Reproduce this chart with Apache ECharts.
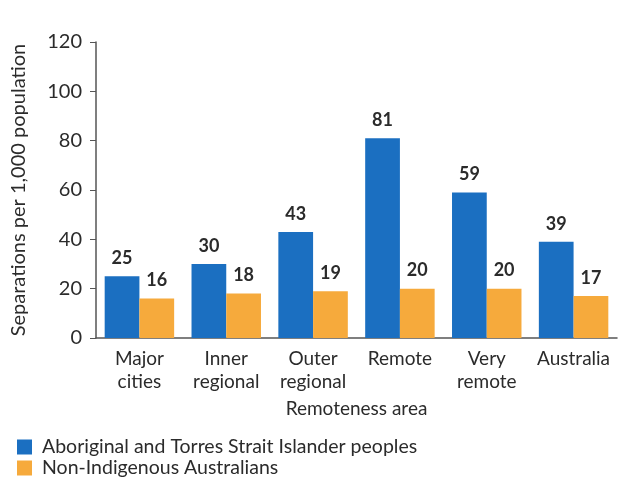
<!DOCTYPE html>
<html>
<head>
<meta charset="utf-8">
<script src="https://cdn.jsdelivr.net/npm/echarts@6/dist/echarts.min.js"></script>
<style>
html,body{margin:0;padding:0;background:#fff;}
#chart{width:625px;height:484px;}
</style>
</head>
<body>
<div id="chart"></div>
<script>
var categories = ['Major\ncities', 'Inner\nregional', 'Outer\nregional', 'Remote', 'Very\nremote', 'Australia'];
var indigenous = [25, 30, 43, 81, 59, 39];
var nonIndigenous = [16, 18, 19, 20, 20, 17];
var yTicks = [0, 20, 40, 60, 80, 100, 120];
var seriesNames = ['Aboriginal and Torres Strait Islander peoples', 'Non-Indigenous Australians'];

var font = 'Lato';
var textColor = '#2b2b2b';

function legendRow(name, top){
	return {
		left: 17,
		top: top,
		padding: 0,
		itemWidth: 15,
		itemHeight: 15,
		itemGap: 0,
		icon: 'rect',
		textStyle: { fontFamily: font, fontSize: 19.5, color: textColor, padding: [0, 0, 0, 5] },
		data: [name]
	};
}

var chart = echarts.init(document.getElementById('chart'));
var option = {
	animation: false,
	textStyle: { fontFamily: font, color: textColor },
	legend: [legendRow(seriesNames[0], 437), legendRow(seriesNames[1], 458)],
	grid: { left: 96, right: 8, top: 42, bottom: 146 },
	xAxis: {
		type: 'category',
		data: categories,
		name: 'Remoteness area',
		nameLocation: 'middle',
		nameGap: 61,
		nameTextStyle: { fontFamily: font, fontSize: 19, color: textColor },
		axisLine: { lineStyle: { color: '#555', width: 1.5 } },
		axisTick: { show: false },
		axisLabel: { interval: 0, fontFamily: font, fontSize: 19, color: textColor, lineHeight: 23, margin: 9 }
	},
	yAxis: {
		type: 'value',
		min: yTicks[0],
		max: yTicks[yTicks.length - 1],
		interval: 20,
		name: 'Separations per 1,000 population',
		nameLocation: 'middle',
		nameGap: 67,
		nameTextStyle: { fontFamily: font, fontSize: 20, color: textColor },
		splitLine: { show: false },
		axisLine: { show: true, lineStyle: { color: '#555', width: 1.5 } },
		axisTick: { show: true, inside: false, length: 6, lineStyle: { color: '#555' } },
		axisLabel: { fontFamily: font, fontSize: 20, color: textColor, margin: 14 }
	},
	series: [
		{
			name: seriesNames[0],
			type: 'bar',
			data: indigenous,
			barGap: '0%',
			barCategoryGap: '20%',
			itemStyle: { color: '#1b6fc1' },
			label: { show: true, position: 'top', distance: 9, fontFamily: font, fontSize: 18, fontWeight: 'bold', color: textColor }
		},
		{
			name: seriesNames[1],
			type: 'bar',
			data: nonIndigenous,
			barGap: '0%',
			barCategoryGap: '20%',
			itemStyle: { color: '#f6aa3c' },
			label: { show: true, position: 'top', distance: 9, fontFamily: font, fontSize: 18, fontWeight: 'bold', color: textColor }
		}
	]
};
chart.setOption(option);
</script>
</body>
</html>
